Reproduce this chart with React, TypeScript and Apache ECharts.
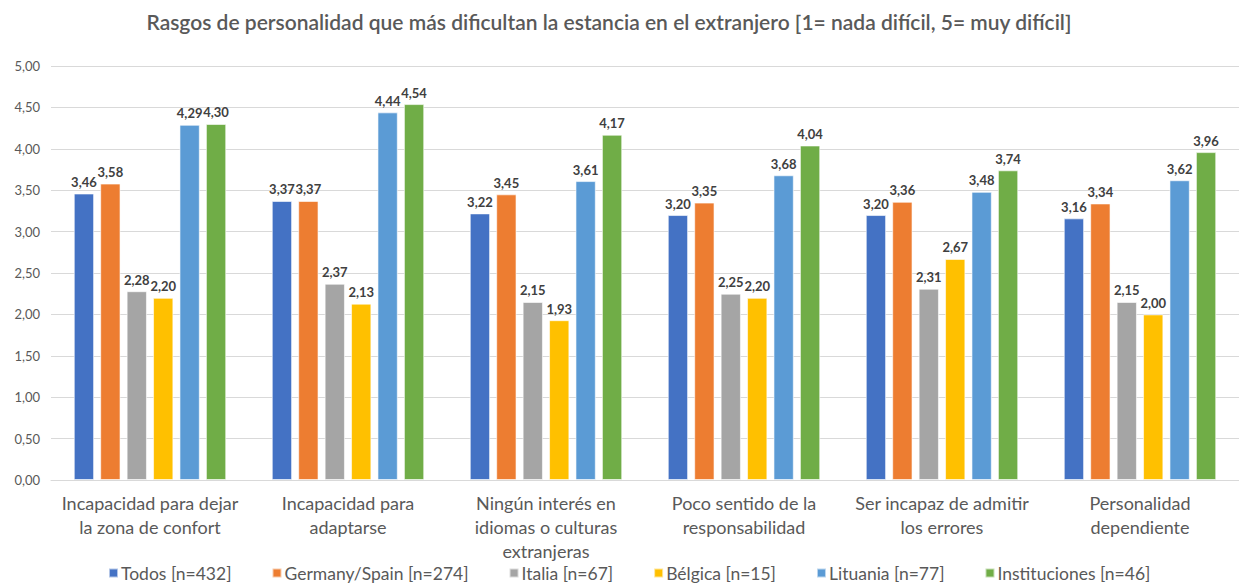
import React, { useEffect, useRef } from "react";
import * as echarts from "echarts";

const categories = [
  "Incapacidad para dejar\nla zona de confort",
  "Incapacidad para\nadaptarse",
  "Ningún interés en\nidiomas o culturas\nextranjeras",
  "Poco sentido de la\nresponsabilidad",
  "Ser incapaz de admitir\nlos errores",
  "Personalidad\ndependiente",
];

const seriesNames = [
  "Todos [n=432]",
  "Germany/Spain [n=274]",
  "Italia [n=67]",
  "Bélgica [n=15]",
  "Lituania [n=77]",
  "Instituciones [n=46]",
];

const todos = [3.46, 3.37, 3.22, 3.2, 3.2, 3.16];
const germanySpain = [3.58, 3.37, 3.45, 3.35, 3.36, 3.34];
const italia = [2.28, 2.37, 2.15, 2.25, 2.31, 2.15];
const belgica = [2.2, 2.13, 1.93, 2.2, 2.67, 2.0];
const lituania = [4.29, 4.44, 3.61, 3.68, 3.48, 3.62];
const instituciones = [4.3, 4.54, 4.17, 4.04, 3.74, 3.96];

const colors = ["#4472C4", "#ED7D31", "#A5A5A5", "#FFC000", "#5B9BD5", "#70AD47"];

const FONT = "Lato, 'Noto Sans', sans-serif";
const fmt = (v: number) => v.toFixed(2).replace(".", ",");

export default function App() {
  const ref = useRef<HTMLDivElement>(null);
  useEffect(() => {
    if (!ref.current) return;
    const chart = echarts.init(ref.current, undefined, { renderer: "svg" });
    const allData = [todos, germanySpain, italia, belgica, lituania, instituciones];
    chart.setOption({
      animation: false,
      backgroundColor: "#fff",
      title: {
        text: "Rasgos de personalidad que más dificultan la estancia en el extranjero [1= nada difícil, 5= muy difícil]",
        left: 604,
        textAlign: "center",
        top: 6,
        textStyle: { fontFamily: FONT, fontSize: 21, fontWeight: 600, color: "#595959" },
      },
      legend: {
        top: 563,
        left: 108,
        padding: 0,
        itemWidth: 9,
        itemHeight: 9,
        itemGap: 40,
        icon: "rect",
        textStyle: { fontFamily: FONT, fontSize: 17.5, lineHeight: 20, color: "#595959", padding: [0, 0, 0, -2] },
        data: seriesNames,
      },
      grid: { left: 51, right: -4, top: 66, bottom: 105 },
      xAxis: {
        type: "category",
        data: categories,
        axisTick: { show: false },
        axisLine: { lineStyle: { color: "#D9D9D9", width: 1 } },
        axisLabel: {
          fontFamily: FONT,
          fontSize: 18,
          color: "#595959",
          lineHeight: 24,
          margin: 11,
          interval: 0,
        },
      },
      yAxis: {
        type: "value",
        min: 0,
        max: 5,
        interval: 0.5,
        axisLine: { show: false },
        axisTick: { show: false },
        splitLine: { lineStyle: { color: "#D9D9D9", width: 1 } },
        axisLabel: {
          fontFamily: FONT,
          fontSize: 13,
          color: "#595959",
          margin: 11,
          formatter: (v: number) => fmt(v),
        },
      },
      series: seriesNames.map((name, i) => ({
        name,
        type: "bar",
        data: allData[i],
        barGap: "30%",
        barCategoryGap: "23%",
        itemStyle: { color: colors[i], borderColor: "rgba(255,255,255,0.6)", borderWidth: 1 },
        label: {
          show: true,
          position: "top",
          distance: 5,
          fontFamily: FONT,
          fontSize: 13,
          fontWeight: "bold",
          color: "#404040",
          formatter: (p: any) => fmt(p.value),
        },
      })),
    });
    return () => chart.dispose();
  }, []);
  return (
    <div
      ref={ref}
      style={{ position: "fixed", left: 0, top: 0, width: 1239, height: 585 }}
    />
  );
}
